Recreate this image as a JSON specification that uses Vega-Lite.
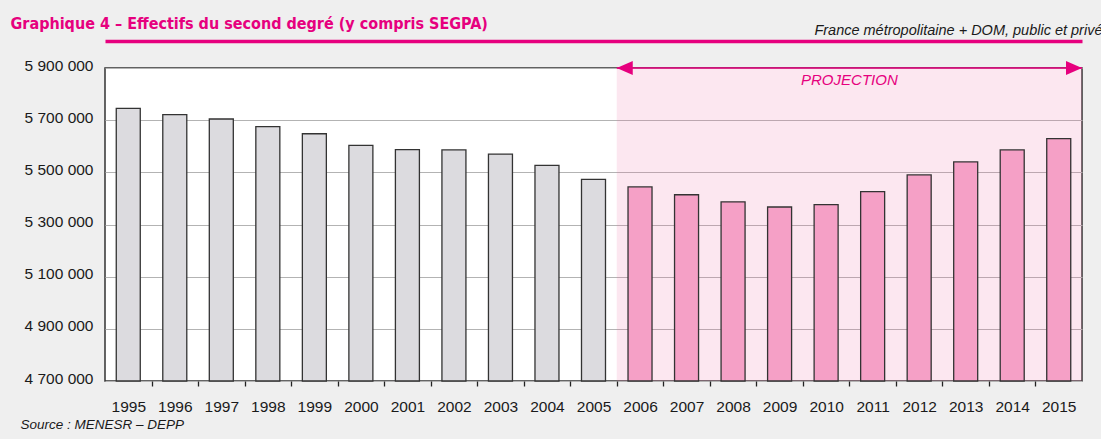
{
  "$schema": "https://vega.github.io/schema/vega-lite/v6.json",
  "width": 977,
  "height": 313,
  "autosize": {"type": "none"},
  "padding": {"left": 105, "top": 68, "right": 19, "bottom": 58},
  "background": "#efefef",
  "config": {
    "locale": {"number": {"decimal": ",", "thousands": " ", "grouping": [3], "currency": ["", " €"]}},
    "view": {"fill": "white", "stroke": "#333333", "strokeWidth": 1.5},
    "font": "Liberation Sans",
    "axis": {"labelFont": "Liberation Sans", "titleFont": "Liberation Sans"}
  },
  "data": {
    "values": [
      {"year": 1995, "value": 5745500, "phase": "constat"},
      {"year": 1996, "value": 5721000, "phase": "constat"},
      {"year": 1997, "value": 5704500, "phase": "constat"},
      {"year": 1998, "value": 5675000, "phase": "constat"},
      {"year": 1999, "value": 5648000, "phase": "constat"},
      {"year": 2000, "value": 5603600, "phase": "constat"},
      {"year": 2001, "value": 5587000, "phase": "constat"},
      {"year": 2002, "value": 5586000, "phase": "constat"},
      {"year": 2003, "value": 5570000, "phase": "constat"},
      {"year": 2004, "value": 5527000, "phase": "constat"},
      {"year": 2005, "value": 5473000, "phase": "constat"},
      {"year": 2006, "value": 5444000, "phase": "projection"},
      {"year": 2007, "value": 5414000, "phase": "projection"},
      {"year": 2008, "value": 5387000, "phase": "projection"},
      {"year": 2009, "value": 5367000, "phase": "projection"},
      {"year": 2010, "value": 5376000, "phase": "projection"},
      {"year": 2011, "value": 5426000, "phase": "projection"},
      {"year": 2012, "value": 5490000, "phase": "projection"},
      {"year": 2013, "value": 5540000, "phase": "projection"},
      {"year": 2014, "value": 5586000, "phase": "projection"},
      {"year": 2015, "value": 5629000, "phase": "projection"}
    ]
  },
  "resolve": {"axis": {"x": "independent", "y": "independent"}},
  "layer": [
    {
      "data": {"values": [{"start": 2005.5, "end": 2015.5}]},
      "mark": {"type": "rect", "color": "#f06ea9", "opacity": 0.17},
      "encoding": {
        "x": {
          "field": "start", "type": "quantitative",
          "scale": {"domain": [1994.5, 2015.5], "nice": false, "zero": false, "padding": 0},
          "axis": {"orient": "top", "offset": 27, "domainColor": "#e6007e", "domainWidth": 3.5, "ticks": false, "labels": false, "grid": false, "title": null}
        },
        "x2": {"field": "end"}
      }
    },
    {
      "mark": {"type": "bar", "width": 24, "stroke": "#333333", "strokeWidth": 1.3},
      "encoding": {
        "x": {
          "field": "year", "type": "quantitative",
          "scale": {"domain": [1994.5, 2015.5], "nice": false, "zero": false, "padding": 0},
          "axis": {
            "orient": "bottom",
            "values": [1995, 1996, 1997, 1998, 1999, 2000, 2001, 2002, 2003, 2004, 2005, 2006, 2007, 2008, 2009, 2010, 2011, 2012, 2013, 2014, 2015],
            "format": "d", "ticks": false, "domain": false, "grid": false,
            "labelFontSize": 15.5, "labelPadding": 18, "labelColor": "#1a1a1a", "labelFlush": false, "labelOverlap": false,
            "title": "Source : MENESR – DEPP",
            "titleX": -85, "titleY": 47, "titleAlign": "left", "titleBaseline": "alphabetic",
            "titleFontStyle": "italic", "titleFontWeight": "normal", "titleFontSize": 13.5, "titleColor": "#1a1a1a"
          }
        },
        "y": {
          "field": "value", "type": "quantitative",
          "scale": {"domain": [4700000, 5900000], "nice": false, "zero": false},
          "axis": {
            "orient": "left",
            "values": [4700000, 4900000, 5100000, 5300000, 5500000, 5700000, 5900000],
            "format": ",d", "ticks": false, "domain": false,
            "grid": true, "gridColor": "#b3b3b3", "gridWidth": 1,
            "labelFontSize": 15.5, "labelPadding": 12, "labelColor": "#1a1a1a", "labelOffset": -3,
            "title": "Graphique 4 – Effectifs du second degré (y compris SEGPA)",
            "titleFont": "DejaVu Sans Condensed, Roboto, sans-serif", "titleFontSize": 16, "titleFontWeight": "bold", "titleColor": "#e6007e",
            "titleAngle": 0, "titleX": -95, "titleY": -40, "titleAlign": "left", "titleBaseline": "alphabetic"
          }
        },
        "y2": {"datum": 4700000},
        "color": {
          "field": "phase", "type": "nominal",
          "scale": {"domain": ["constat", "projection"], "range": ["#dcdbdf", "#f5a0c6"]},
          "legend": null
        }
      }
    },
    {
      "data": {"values": [{"start": 2005.5, "end": 2015.5, "top": 5900000}]},
      "mark": {"type": "rule", "color": "#e6007e", "strokeWidth": 1.5},
      "encoding": {
        "x": {
          "field": "start", "type": "quantitative",
          "axis": {
            "orient": "bottom",
            "values": [1995.5, 1996.5, 1997.5, 1998.5, 1999.5, 2000.5, 2001.5, 2002.5, 2003.5, 2004.5, 2005.5, 2006.5, 2007.5, 2008.5, 2009.5, 2010.5, 2011.5, 2012.5, 2013.5, 2014.5],
            "labels": false, "ticks": true, "tickSize": 5, "tickColor": "#222222", "tickWidth": 1.3,
            "domain": false, "grid": false,
            "title": "France métropolitaine + DOM, public et privé",
            "titleX": 997, "titleY": -347, "titleAlign": "right", "titleBaseline": "alphabetic",
            "titleFontStyle": "italic", "titleFontWeight": "normal", "titleFontSize": 14.5, "titleColor": "#1a1a1a"
          }
        },
        "x2": {"field": "end"},
        "y": {"field": "top", "type": "quantitative", "axis": null}
      }
    },
    {
      "data": {"values": [{"start": 2005.5, "top": 5900000}]},
      "mark": {"type": "point", "shape": "M0,0L2,-0.875L2,0.875Z", "size": 256, "filled": true, "color": "#e6007e", "opacity": 1},
      "encoding": {
        "x": {"field": "start", "type": "quantitative", "axis": null},
        "y": {"field": "top", "type": "quantitative", "axis": null}
      }
    },
    {
      "data": {"values": [{"end": 2015.5, "top": 5900000}]},
      "mark": {"type": "point", "shape": "M0,0L-2,-0.875L-2,0.875Z", "size": 256, "filled": true, "color": "#e6007e", "opacity": 1},
      "encoding": {
        "x": {"field": "end", "type": "quantitative", "axis": null},
        "y": {"field": "top", "type": "quantitative", "axis": null}
      }
    },
    {
      "data": {"values": [{"mid": 2010.5, "top": 5900000, "label": "PROJECTION"}]},
      "mark": {"type": "text", "color": "#e6007e", "fontSize": 15, "fontStyle": "italic", "font": "Liberation Sans", "baseline": "middle", "dy": 12},
      "encoding": {
        "x": {"field": "mid", "type": "quantitative", "axis": null},
        "y": {"field": "top", "type": "quantitative", "axis": null},
        "text": {"field": "label"}
      }
    }
  ]
}
